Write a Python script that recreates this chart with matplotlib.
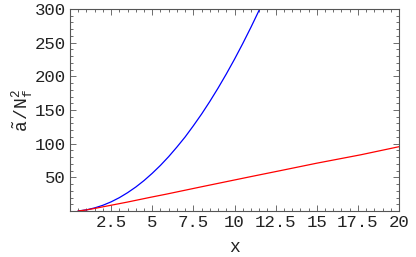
import matplotlib
matplotlib.use("Agg")
import matplotlib.pyplot as plt
from matplotlib.ticker import MultipleLocator, FixedLocator

# Data
blue_x = [0.5, 1.0, 1.5, 2.0, 2.5, 3.0, 3.5, 4.0, 4.5, 5.0, 5.5, 6.0, 6.5, 7.0, 7.5,
          8.0, 8.5, 9.0, 9.5, 10.0, 10.5, 11.0, 11.5, 12.0]
blue_y = [0, 1.7, 4.6, 8.5, 13.6, 19.8, 27.2, 35.6, 45.2, 56, 67.8, 80.8, 95, 110,
          126.6, 144, 162.7, 182.5, 203.4, 225.4, 248.6, 272.9, 298.3, 325]
red_x = [0.5, 1.0, 1.5, 2.0, 3.5, 4.88, 5.85, 8.0, 10.98, 12.8, 15.0, 17.68, 20.0]
red_y = [0, 1.6, 3.8, 6.2, 13.3, 20.3, 25, 36, 51, 60, 71, 83.5, 95.5]
xticks = [2.5, 5, 7.5, 10, 12.5, 15, 17.5, 20]
xticklabels = ["2.5", "5", "7.5", "10", "12.5", "15", "17.5", "20"]
yticks = [50, 100, 150, 200, 250, 300]
yticklabels = ["50", "100", "150", "200", "250", "300"]

plt.rcParams['mathtext.fontset'] = 'custom'
plt.rcParams['mathtext.rm'] = 'Liberation Mono'
plt.rcParams['mathtext.it'] = 'Liberation Mono'

fig = plt.figure(figsize=(4.16, 2.57), dpi=100)
ax = fig.add_axes([70/416, 46/257, 329/416, 202/257])
ax.plot(blue_x, blue_y, color=(0, 0, 1), lw=0.9)
ax.plot(red_x, red_y, color=(1, 0, 0), lw=0.9)
ax.set_xlim(0, 20)
ax.set_ylim(0, 300)

fnt = dict(family='Liberation Mono', size=12.5, color='#222222')
ax.xaxis.set_major_locator(FixedLocator(xticks))
ax.set_xticklabels(xticklabels, **fnt)
ax.yaxis.set_major_locator(FixedLocator(yticks))
ax.set_yticklabels(yticklabels, **fnt)
ax.xaxis.set_minor_locator(MultipleLocator(0.5))
ax.yaxis.set_minor_locator(MultipleLocator(10))
ax.tick_params(which='both', direction='in', top=True, right=True, color='#555555', width=0.6)
ax.tick_params(which='major', length=4, pad=3)
ax.tick_params(which='minor', length=2)
for s in ax.spines.values():
    s.set_color('#555555')
    s.set_linewidth(0.8)

ax.set_xlabel('x', family='Liberation Mono', size=13, color='#222222', labelpad=6)
ax.set_ylabel(r'$\tilde{\mathrm{a}}\,/\mathrm{N}_\mathrm{f}^2$', size=13, color='#222222', labelpad=0)

fig.savefig('out.png', dpi=100)
